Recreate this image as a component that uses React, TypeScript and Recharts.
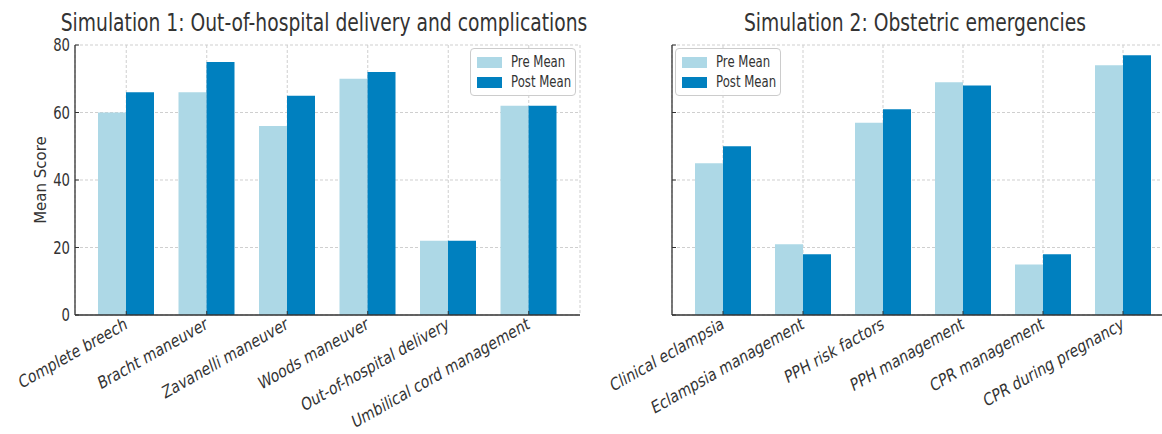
import React from "react";
import { Bar, BarChart, CartesianGrid, XAxis, YAxis } from "recharts";

const sim1Categories = [
  "Complete breech",
  "Bracht maneuver",
  "Zavanelli maneuver",
  "Woods maneuver",
  "Out-of-hospital delivery",
  "Umbilical cord management",
];
const sim1Pre = [60, 66, 56, 70, 22, 62];
const sim1Post = [66, 75, 65, 72, 22, 62];

const sim2Categories = [
  "Clinical eclampsia",
  "Eclampsia management",
  "PPH risk factors",
  "PPH management",
  "CPR management",
  "CPR during pregnancy",
];
const sim2Pre = [45, 21, 57, 69, 15, 74];
const sim2Post = [50, 18, 61, 68, 18, 77];

const yTicks = [0, 20, 40, 60, 80];
const seriesNames = ["Pre Mean", "Post Mean"];

const PRE = "#add8e6";
const POST = "#0080bf";
const INK = "#333";
const GRID = "#cfcfcf";
const FONT = "'DejaVu Sans', sans-serif";
// the source picture has its text squeezed sideways
const SQ = 0.78;

function XTick({ x, y, payload }: any) {
  return (
    <g>
      <line x1={x} x2={x} y1={y} y2={y - 4} stroke={INK} strokeWidth={1} />
      <text
        transform={`translate(${x + 2},${y + 13}) scale(${SQ},1) rotate(-24)`}
        textAnchor="end"
        fontSize={17.5}
        fontFamily={FONT}
        fill={INK}
      >
        {payload.value}
      </text>
    </g>
  );
}

function YTick({ x, y, payload, showLabel }: any) {
  return (
    <g>
      <line x1={x} x2={x + 4} y1={y} y2={y} stroke={INK} strokeWidth={1} />
      {showLabel && (
        <text
          transform={`translate(${x - 5},${y}) scale(${SQ},1)`}
          textAnchor="end"
          dy="0.36em"
          fontSize={17}
          fontFamily={FONT}
          fill={INK}
        >
          {payload.value}
        </text>
      )}
    </g>
  );
}

function LegendBox({ left }: { left: number }) {
  const colors = [PRE, POST];
  return (
    <div
      style={{
        position: "absolute",
        top: 48,
        left,
        border: "1px solid #cccccc",
        borderRadius: 4,
        background: "rgba(255,255,255,0.85)",
        width: 106,
        height: 48,
        boxSizing: "border-box",
        padding: "3px 0 0 6px",
      }}
    >
      {seriesNames.map((label, i) => (
        <div key={label} style={{ display: "flex", alignItems: "center", height: 20 }}>
          <span style={{ width: 25, height: 11, background: colors[i], marginRight: 9, flex: "none" }} />
          <span
            style={{
              display: "inline-block",
              fontSize: 15,
              fontFamily: FONT,
              color: INK,
              whiteSpace: "nowrap",
              transform: `scaleX(${SQ})`,
              transformOrigin: "left center",
            }}
          >
            {label}
          </span>
        </div>
      ))}
    </div>
  );
}

function SimChart({
  categories,
  pre,
  post,
  width,
  marginLeft,
  marginRight,
  yWidth,
  showY,
}: {
  categories: string[];
  pre: number[];
  post: number[];
  width: number;
  marginLeft: number;
  marginRight: number;
  yWidth: number;
  showY: boolean;
}) {
  const data = categories.map((name, i) => ({ name, pre: pre[i], post: post[i] }));
  return (
    <BarChart
      width={width}
      height={434}
      data={data}
      margin={{ top: 45, right: marginRight, bottom: 89, left: marginLeft }}
      barGap={0}
      barSize={28}
      style={{ overflow: "visible" }}
    >
      <CartesianGrid stroke={GRID} strokeDasharray="3 2" />
      <XAxis
        dataKey="name"
        interval={0}
        height={30}
        padding={{ left: 11, right: 11 }}
        tickSize={0}
        tickMargin={0}
        tickLine={false}
        axisLine={{ stroke: INK, strokeWidth: 1.3 }}
        tick={<XTick />}
      />
      <YAxis
        domain={[0, 80]}
        ticks={yTicks}
        width={yWidth}
        tickSize={0}
        tickMargin={0}
        tickLine={false}
        axisLine={{ stroke: INK, strokeWidth: 1.3 }}
        tick={<YTick showLabel={showY} />}
        label={
          showY
            ? {
                value: "Mean Score",
                angle: -90,
                position: "insideLeft",
                offset: 2,
                style: { fontSize: 15, fontFamily: FONT, fill: INK, textAnchor: "middle" },
              }
            : undefined
        }
      />
      <Bar dataKey="pre" name={seriesNames[0]} fill={PRE} isAnimationActive={false} />
      <Bar dataKey="post" name={seriesNames[1]} fill={POST} isAnimationActive={false} />
    </BarChart>
  );
}

export default function App() {
  return (
    <div
      style={{
        position: "absolute",
        top: 0,
        left: 0,
        width: 1162,
        height: 434,
        overflow: "hidden",
        background: "#fff",
      }}
    >
      <div style={{ position: "absolute", left: 0, top: 0 }}>
        <SimChart
          categories={sim1Categories}
          pre={sim1Pre}
          post={sim1Post}
          width={600}
          marginLeft={39}
          marginRight={20}
          yWidth={36}
          showY
        />
      </div>
      <div style={{ position: "absolute", left: 600, top: 0 }}>
        <SimChart
          categories={sim2Categories}
          pre={sim2Pre}
          post={sim2Post}
          width={580}
          marginLeft={62}
          marginRight={6}
          yWidth={10}
          showY={false}
        />
      </div>
      <LegendBox left={470} />
      <LegendBox left={675} />
      <svg
        width={1162}
        height={40}
        style={{ position: "absolute", left: 0, top: 0, pointerEvents: "none" }}
      >
        <text
          transform={`translate(324,31) scale(${SQ},1)`}
          textAnchor="middle"
          fontSize={24}
          fontFamily={FONT}
          fill={INK}
        >
          Simulation 1: Out-of-hospital delivery and complications
        </text>
        <text
          transform={`translate(915,31) scale(${SQ},1)`}
          textAnchor="middle"
          fontSize={24}
          fontFamily={FONT}
          fill={INK}
        >
          Simulation 2: Obstetric emergencies
        </text>
      </svg>
    </div>
  );
}
